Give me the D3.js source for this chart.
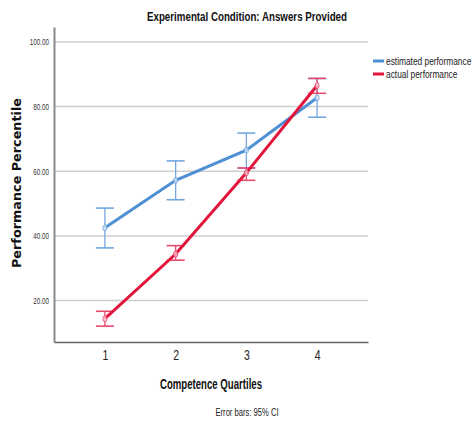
<!DOCTYPE html>
<html>
<head>
<meta charset="utf-8">
<script src="https://cdn.jsdelivr.net/npm/d3@7"></script>
<style>
  body { margin: 0; background: #fff; }
  svg { display: block; }
</style>
</head>
<body>
<div id="chart"></div>
<script>
// quartiles on x
const quartiles = [1, 2, 3, 4];
const yTicks = [20, 40, 60, 80, 100];

// estimated performance (mean, CI low, CI high)
const estMean = [42.5, 57.2, 66.5, 82.7];
const estLow = [36.3, 51.2, 61.0, 76.7];
const estHigh = [48.6, 63.2, 71.8, 88.7];

// actual performance
const actMean = [14.4, 34.4, 59.5, 86.5];
const actLow = [12.1, 32.5, 57.2, 84.1];
const actHigh = [16.7, 37.0, 61.0, 88.7];

const seriesNames = ["estimated performance", "actual performance"];

const sans = "'Liberation Sans', Arial, sans-serif";

// squeeze a text horizontally so it looks like a condensed face
function condense(sel, factor) {
  sel.each(function () {
    const w = this.getComputedTextLength();
    d3.select(this)
      .attr("textLength", w * factor)
      .attr("lengthAdjust", "spacingAndGlyphs");
  });
}

const W = 473, H = 421;
const svg = d3.select("#chart").append("svg")
  .attr("width", W).attr("height", H);

const x = d3.scaleLinear().domain([0.28, 4.72]).range([54, 368]);
const y = d3.scaleLinear().domain([7.2, 104.6]).range([342, 27]);

const series = [
  { name: seriesNames[0], mean: estMean, low: estLow, high: estHigh, line: "#4f8fd3", bar: "#73a7df" },
  { name: seriesNames[1], mean: actMean, low: actLow, high: actHigh, line: "#e2163b", bar: "#e84a6f" }
];

// gridlines
svg.append("g")
  .selectAll("line")
  .data(yTicks)
  .join("line")
  .attr("x1", x(0.28)).attr("x2", x(4.72))
  .attr("y1", d => y(d)).attr("y2", d => y(d))
  .attr("stroke", "#cfcfcf")
  .attr("stroke-width", 1.5);

// y axis
const yAxis = d3.axisLeft(y).tickValues(yTicks).tickSize(0).tickPadding(5)
  .tickFormat(d3.format(".2f"));
const gy = svg.append("g")
  .attr("transform", `translate(${x(0.28)},0)`)
  .call(yAxis);
gy.select(".domain").attr("stroke", "#8a8a8a").attr("stroke-width", 2);
gy.selectAll("text")
  .style("font-family", sans)
  .style("font-size", "9.5px")
  .attr("fill", "#333")
  .call(condense, 0.66);

// x axis
const xAxis = d3.axisBottom(x).tickValues(quartiles).tickSize(0).tickPadding(8)
  .tickFormat(d3.format("d"));
const gx = svg.append("g")
  .attr("transform", `translate(0,${y(7.2)})`)
  .call(xAxis);
gx.select(".domain").attr("stroke", "#666").attr("stroke-width", 1.5);
gx.selectAll("text")
  .style("font-family", sans)
  .style("font-size", "14px")
  .attr("fill", "#222")
  .call(condense, 0.75);

// error bars + lines
const cap = 9;
series.forEach(s => {
  const g = svg.append("g");
  const idx = d3.range(quartiles.length);

  g.selectAll(".stem")
    .data(idx)
    .join("line")
    .attr("x1", i => x(quartiles[i])).attr("x2", i => x(quartiles[i]))
    .attr("y1", i => y(s.low[i])).attr("y2", i => y(s.high[i]))
    .attr("stroke", s.bar).attr("stroke-width", 1.3);

  ["low", "high"].forEach(k => {
    g.selectAll(".cap-" + k)
      .data(idx)
      .join("line")
      .attr("x1", i => x(quartiles[i]) - cap).attr("x2", i => x(quartiles[i]) + cap)
      .attr("y1", i => y(s[k][i])).attr("y2", i => y(s[k][i]))
      .attr("stroke", s.bar).attr("stroke-width", 1.6);
  });

  g.append("path")
    .datum(idx)
    .attr("fill", "none")
    .attr("stroke", s.line)
    .attr("stroke-width", 3)
    .attr("d", d3.line().x(i => x(quartiles[i])).y(i => y(s.mean[i])));

  g.selectAll("ellipse")
    .data(idx)
    .join("ellipse")
    .attr("cx", i => x(quartiles[i])).attr("cy", i => y(s.mean[i]))
    .attr("rx", 2).attr("ry", 3)
    .attr("fill", "#fff").attr("fill-opacity", 0.6)
    .attr("stroke", s.bar).attr("stroke-width", 1);
});

// title
svg.append("text")
  .attr("x", 247).attr("y", 21)
  .attr("text-anchor", "middle")
  .style("font-family", sans)
  .style("font-weight", "bold")
  .style("font-size", "13px")
  .attr("fill", "#111")
  .attr("textLength", 200).attr("lengthAdjust", "spacingAndGlyphs")
  .text("Experimental Condition: Answers Provided");

// legend (text squeezed with a scale so its box stays inside the page)
const legend = svg.append("g").attr("transform", "translate(373,61)");
series.forEach((s, i) => {
  legend.append("line")
    .attr("x1", 0).attr("x2", 11)
    .attr("y1", i * 13).attr("y2", i * 13)
    .attr("stroke", s.line).attr("stroke-width", 3);
  legend.append("g")
    .attr("transform", `translate(13,${i * 13 + 4}) scale(0.76,1)`)
    .append("text")
    .style("font-family", sans)
    .style("font-size", "11px")
    .attr("fill", "#222")
    .text(s.name);
});

// y axis label
svg.append("text")
  .attr("transform", "translate(21,183) rotate(-90)")
  .attr("text-anchor", "middle")
  .style("font-family", "'DejaVu Sans', Verdana, sans-serif")
  .style("font-weight", "bold")
  .style("font-size", "12px")
  .attr("fill", "#111")
  .attr("textLength", 170).attr("lengthAdjust", "spacingAndGlyphs")
  .text("Performance Percentile");

// x axis label
svg.append("text")
  .attr("x", 211).attr("y", 389)
  .attr("text-anchor", "middle")
  .style("font-family", sans)
  .style("font-weight", "bold")
  .style("font-size", "14px")
  .attr("fill", "#111")
  .attr("textLength", 102).attr("lengthAdjust", "spacingAndGlyphs")
  .text("Competence Quartiles");

// footnote
svg.append("text")
  .attr("x", 247).attr("y", 416)
  .attr("text-anchor", "middle")
  .style("font-family", sans)
  .style("font-size", "10.5px")
  .attr("fill", "#222")
  .attr("textLength", 63).attr("lengthAdjust", "spacingAndGlyphs")
  .text("Error bars: 95% CI");
</script>
</body>
</html>
